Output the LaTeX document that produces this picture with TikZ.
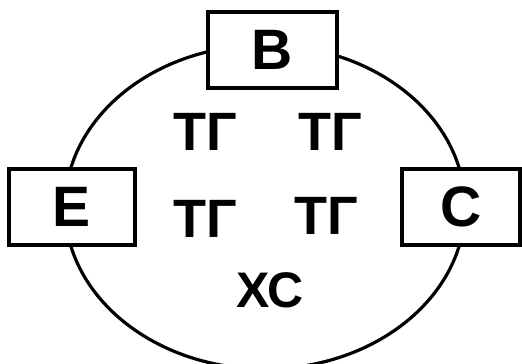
\documentclass[tikz,border=0pt]{standalone}
\usepackage{fontspec}
\setmainfont{Liberation Sans}
\usetikzlibrary{shapes.geometric}

\begin{document}
\begin{tikzpicture}[x=1pt,y=1pt,
      line width=3.2pt,
      letterbox/.style={draw,fill=white,minimum width=126pt,minimum height=76pt,
                        inner sep=0pt,font=\bfseries\fontsize{57}{57}\selectfont},
      mark label/.style={inner sep=0pt,font=\bfseries\fontsize{54}{54}\selectfont},
      zone label/.style={inner sep=0pt,font=\bfseries\fontsize{50}{50}\selectfont}]
    \useasboundingbox (0,0) rectangle (522,364);
    \fill[white] (0,0) rectangle (522,364);
    \node[draw,ellipse,minimum width=400pt,minimum height=324pt,inner sep=0pt] (ring) at (265,157) {};
    \node[letterbox,minimum width=129pt] (b) at (272.5,314) {B};
    \node[letterbox] (e) at (72,157) {E};
    \node[letterbox,minimum width=118pt] (c) at (461,157) {C};
    \node[mark label] (tgnw) at (205,232) {ТГ};
    \node[mark label] (tgne) at (330,232) {ТГ};
    \node[mark label] (tgsw) at (205,145) {ТГ};
    \node[mark label] (tgse) at (326,148) {ТГ};
    \node[zone label] (xc) at (270,74) {ХС};
  \end{tikzpicture}
\end{document}
